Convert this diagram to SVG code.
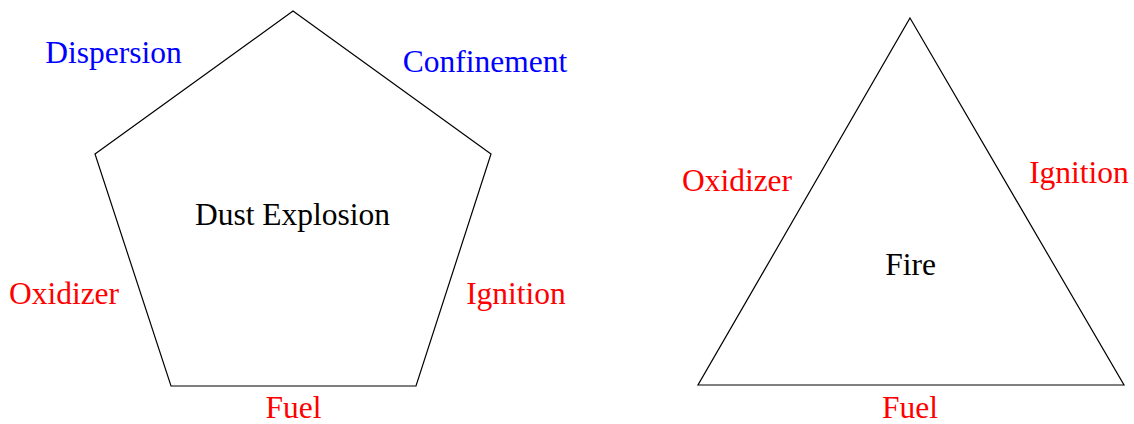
<svg xmlns="http://www.w3.org/2000/svg" width="1134" height="424" viewBox="0 0 1134 424">
<style>
.shape{fill:none;stroke:#000;stroke-width:1.2;stroke-linejoin:miter}
text{font-family:"Liberation Serif","Times New Roman",serif;font-size:31.5px;text-anchor:middle}
.k{fill:#000}
.r{fill:#ff0000}
.b{fill:#0000ff}
</style>
<rect width="1134" height="424" fill="#fff"/>
<g id="pentagon">
<polygon class="shape" points="293,11 491,154 416,386 171,386 95,154"/>
<text class="k" x="292.5" y="225">Dust Explosion</text>
</g>
<g id="triangle">
<polygon class="shape" points="910,18 1124,385 698,385"/>
<text class="k" x="910.5" y="275">Fire</text>
</g>
<g id="connectors"></g>
<g id="labels-pentagon">
<text class="b" x="113.5" y="63">Dispersion</text>
<text class="b" x="485" y="72">Confinement</text>
<text class="r" x="64" y="304">Oxidizer</text>
<text class="r" x="516" y="304">Ignition</text>
<text class="r" x="293.5" y="418">Fuel</text>
</g>
<g id="labels-triangle">
<text class="r" x="737" y="191">Oxidizer</text>
<text class="r" x="1079" y="183">Ignition</text>
<text class="r" x="910" y="418">Fuel</text>
</g>
</svg>
